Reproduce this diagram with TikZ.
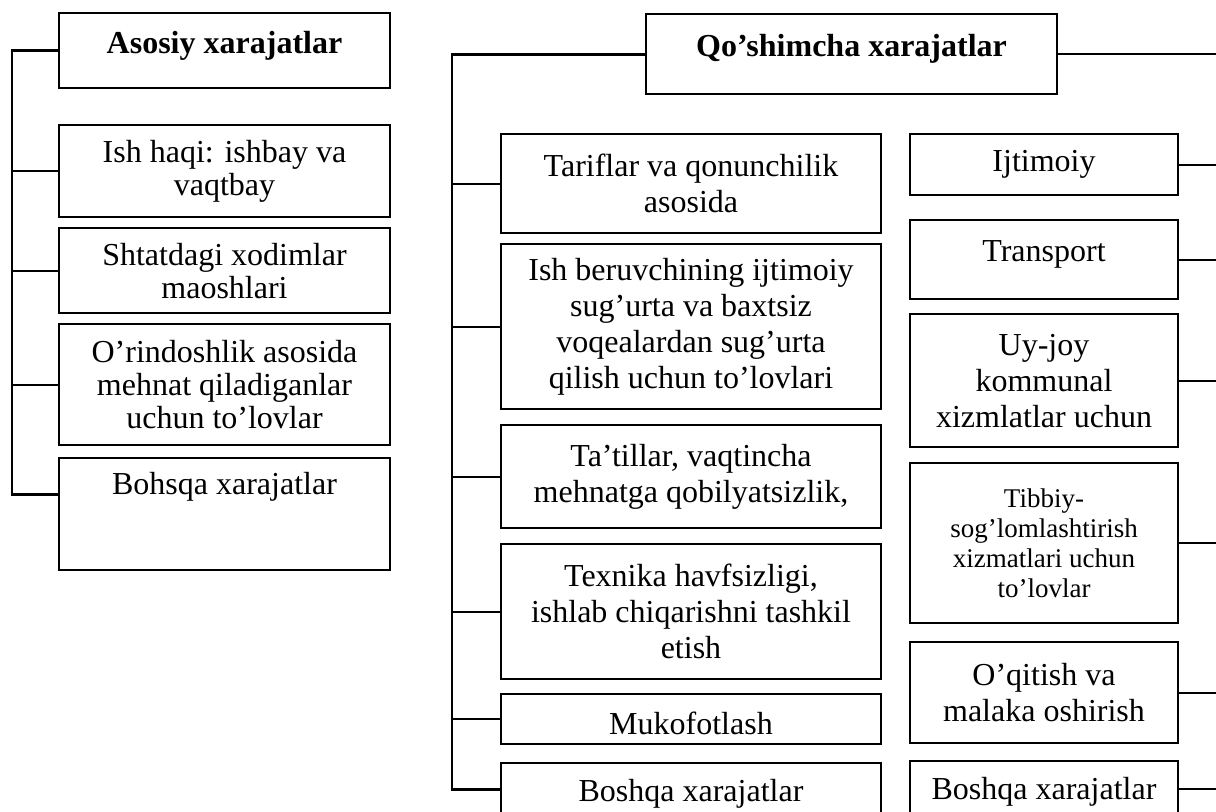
\documentclass[tikz,border=0pt]{standalone}
\usepackage{fontspec}
\setmainfont{Liberation Serif}
\usepackage{tikz}

\begin{document}
\begin{tikzpicture}[
  x=0.5pt,y=-0.5pt,
  font=\fontsize{16pt}{18pt}\selectfont,
  box/.style={rectangle,draw,line width=1.2pt,inner sep=0pt,align=center,anchor=north},
  lbox/.style={box,minimum width=165.5pt,font=\fontsize{16pt}{16.5pt}\selectfont},
  mbox/.style={box,minimum width=190pt},
  rbox/.style={box,minimum width=134pt},
  head/.style={box,font=\fontsize{16pt}{16.5pt}\selectfont\bfseries},
  link/.style={line width=0.9pt},
  bus/.style={line width=1.3pt}
]
\useasboundingbox (0,0) rectangle (1216,811);
\coordinate (lbus) at (12,0);
\coordinate (mbus) at (452,0);
\coordinate (rbus) at (1216,0);

% ---- asosiy xarajatlar ----
\node[head,minimum width=165.5pt,text height=20pt,text depth=17.5pt] (asosiy) at (224.5,12) {Asosiy xarajatlar};
\node[lbox,minimum height=46pt] (ishhaqi) at (224.5,124) {Ish haqi: ishbay va\\vaqtbay};
\node[lbox,minimum height=42.5pt] (shtat) at (224.5,227) {Shtatdagi xodimlar\\maoshlari};
\node[lbox,minimum height=60.5pt] (orindosh) at (224.5,323) {O’rindoshlik asosida\\mehnat qiladiganlar\\uchun to’lovlar};
\node[lbox,text height=18pt,text depth=38pt] (bohsqa) at (224.5,457) {Bohsqa xarajatlar};
\draw[bus] (asosiy.west) -| (lbus |- bohsqa.base west) -- (bohsqa.base west);
\foreach \n in {ishhaqi,shtat,orindosh}
  \draw[link] (\n.west) -- (\n.west -| lbus);

% ---- qo'shimcha xarajatlar ----
\node[head,minimum width=205.5pt,text height=21pt,text depth=19pt] (qoshimcha) at (851.5,13) {Qo’shimcha xarajatlar};
\node[mbox,minimum height=49.5pt] (tarif) at (691,133) {Tariflar va qonunchilik\\asosida};
\node[mbox,minimum height=82.5pt] (ishber) at (691,243) {Ish beruvchining ijtimoiy\\sug’urta va baxtsiz\\voqealardan sug’urta\\qilish uchun to’lovlari};
\node[mbox,minimum height=51.5pt] (tatil) at (691,424) {Ta’tillar, vaqtincha\\mehnatga qobilyatsizlik,};
\node[mbox,minimum height=67.5pt] (texnika) at (691,543) {Texnika havfsizligi,\\ishlab chiqarishni tashkil\\etish};
\node[mbox,text height=20pt,text depth=5pt] (mukofot) at (691,693) {Mukofotlash};
\node[mbox,text height=19pt,text depth=7pt] (boshqam) at (691,762) {Boshqa xarajatlar};
\draw[bus] (qoshimcha.west) -| (mbus |- boshqam.west) -- (boshqam.west);
\foreach \n in {tarif,ishber,tatil,texnika,mukofot}
  \draw[link] (\n.west) -- (\n.west -| mbus);

% ---- right column ----
\node[rbox,minimum height=30.5pt] (ijtimoiy) at (1044,133) {Ijtimoiy};
\node[rbox,text height=20.5pt,text depth=19pt] (transport) at (1044,219) {Transport};
\node[rbox,minimum height=66.5pt] (uyjoy) at (1044,313) {Uy-joy\\kommunal\\xizmlatlar uchun};
\node[rbox,minimum height=80pt,font=\fontsize{13.5pt}{15pt}\selectfont] (tibbiy) at (1044,462) {Tibbiy-\\sog’lomlashtirish\\xizmatlari uchun\\to’lovlar};
\node[rbox,minimum height=50.5pt] (oqitish) at (1044,641) {O’qitish va\\malaka oshirish};
\node[rbox,text height=19pt,text depth=9pt] (boshqar) at (1044,760) {Boshqa xarajatlar};
\draw[link] (qoshimcha.east) -- (qoshimcha.east -| rbus);
\foreach \n in {ijtimoiy,transport,uyjoy,tibbiy,oqitish,boshqar}
  \draw[link] (\n.east) -- (\n.east -| rbus);

\end{tikzpicture}
\end{document}
